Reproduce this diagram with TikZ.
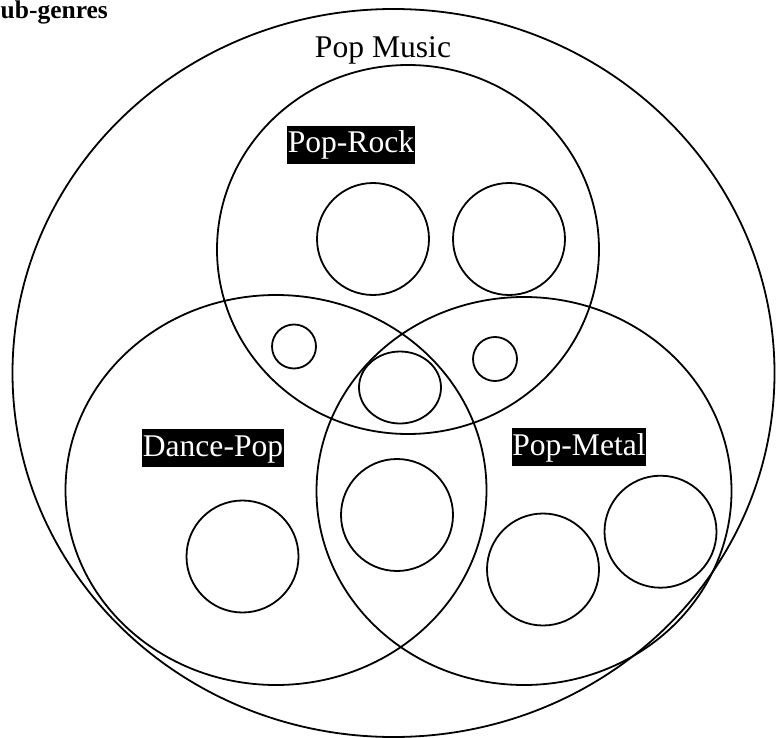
\documentclass[tikz,border=0pt]{standalone}
\usepackage{fontspec}
\setmainfont{Liberation Serif}
\usetikzlibrary{shapes.geometric}
\tikzset{
  ring/.style args={#1/#2}{draw, ellipse, line width=1.8pt, inner sep=0pt, minimum width=#1pt, minimum height=#2pt},
  hilite/.style={fill=black, text=white, inner xsep=0.5pt, inner ysep=0pt, text height=27pt, text depth=11pt, font=\fontsize{31.6}{36}\selectfont},
  plain/.style={inner sep=0pt, font=\fontsize{31.6}{36}\selectfont}
}
\begin{document}
\begin{tikzpicture}[x=1pt,y=-1pt]
\useasboundingbox (0,0) rectangle (776,738);
% big circles
\node[ring=762/728] (popmusic) at (393.5,373) {};
\node[ring=382/369] (poprock) at (408,249.5) {};
\node[ring=421/390] (dancepop) at (276,490) {};
\node[ring=415/388] (popmetal) at (524,491) {};
% small circles
\node[ring=112/112] (c1) at (373,239) {};
\node[ring=112/112] (c2) at (509,239) {};
\node[ring=44/44] (c3) at (294,346.5) {};
\node[ring=44/44] (c4) at (495,359) {};
\node[ring=82/72] (c5) at (400,387.5) {};
\node[ring=112/112] (c6) at (242.5,556.5) {};
\node[ring=112/112] (c7) at (397,515) {};
\node[ring=112/112] (c8) at (543,569.5) {};
\node[ring=112/112] (c9) at (660.5,531.7) {};
% labels
\node[plain, anchor=base] (tpop) at (383,57.3) {Pop Music};
\node[hilite] (trock) at (351,145) {Pop-Rock};
\node[hilite] (tdance) at (213,448) {Dance-Pop};
\node[hilite] (tmetal) at (579,447) {Pop-Metal};
\node[inner sep=0pt, anchor=base west, font=\fontsize{25.5}{30}\selectfont\bfseries] (title) at (0.5,19) {ub-genres};
\end{tikzpicture}
\end{document}
